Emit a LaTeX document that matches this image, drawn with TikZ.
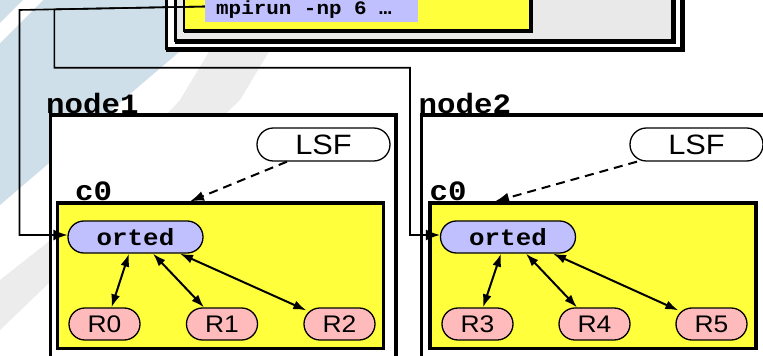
\documentclass[tikz,border=0pt]{standalone}
\usepackage{fontspec}
\setmainfont{Liberation Sans}
\newfontfamily\codefont{Liberation Mono}
\usetikzlibrary{arrows.meta}

\definecolor{slideblue}{RGB}{206,223,233}
\definecolor{slidegray}{RGB}{236,236,236}
\definecolor{hostgray}{RGB}{233,233,233}
\definecolor{coreyellow}{RGB}{255,255,60}
\definecolor{daemonblue}{RGB}{192,192,255}
\definecolor{rankpink}{RGB}{255,187,187}

% slightly widened lettering
\newcommand\widetext[1]{\scalebox{1.1}[1]{#1}}

\tikzset{
  pill/.style={draw, line width=1.3pt, rounded corners=15.9pt, minimum height=32pt, inner sep=0pt},
  rank/.style={pill, fill=rankpink, minimum width=71pt, font=\fontsize{24}{28}\selectfont},
  daemon/.style={pill, fill=daemonblue, minimum width=135pt, font=\codefont\bfseries\fontsize{23.5}{28}\selectfont},
  sched/.style={pill, fill=white, minimum width=133pt, minimum height=33pt, rounded corners=16.4pt, font=\fontsize{28}{32}\selectfont},
  hostbox/.style={draw, fill=white, line width=3.6pt},
  corebox/.style={draw, fill=coreyellow, line width=3.2pt, inner sep=0pt, minimum height=145.5pt},
  boxlabel/.style={anchor=base west, inner sep=0pt, font=\codefont\bfseries\fontsize{28}{32}\selectfont},
  frameline/.style={line width=3.6pt},
  launch/.style={line width=1.6pt, -{Latex[length=14pt,width=11pt]}},
  talk/.style={line width=2pt, {Latex[length=13pt,width=9pt]}-{Latex[length=13pt,width=9pt]}},
  assign/.style={line width=2pt, dash pattern=on 9pt off 6pt, -{Latex[length=14pt,width=10pt]}},
}

\begin{document}
\begin{tikzpicture}[x=1pt,y=-1pt]
\useasboundingbox (0,0) rectangle (763,356);
\clip (0,0) rectangle (763,356);

% slide backdrop
\fill[white] (0,0) rectangle (763,356);
\fill[slideblue] (0,0) -- (240,0) -- (0,205) -- cycle;
\fill[white] (0,23) -- (23,0) -- (43,0) -- (0,43) -- cycle;
\fill[slidegray] (0,280) -- (47,243) -- (180,100) -- (240,0) -- (300,0) -- (240,100) -- (0,330) -- cycle;

% head node with the launch command (double frame with a small offset shade)
\draw[frameline] (168,-10) rectangle (683,50);
\draw[frameline, fill=white] (166.5,-10) rectangle (681.5,48.5);
\draw[frameline] (177,-10) rectangle (674.5,42);
\draw[frameline, fill=hostgray] (175.5,-10) rectangle (673,40.5);
\draw[line width=2.6pt] (185,-10) rectangle (531.5,31.5);
\draw[line width=2.6pt, fill=coreyellow] (184,-10) rectangle (530.5,30.5);
\node[fill=daemonblue, inner sep=0pt, minimum width=213pt, minimum height=30pt] (mpirun) at (311.5,6.5) {};
\node[anchor=base west, inner sep=0pt, font=\codefont\bfseries\fontsize{19}{22}\selectfont] (cmd) at (216,14) {\widetext{mpirun -np 6 …}};

% compute hosts
\draw[hostbox] (50.5,115) rectangle (396,380);
\draw[hostbox] (421.3,115) rectangle (800,380);
\node[boxlabel] (host1) at (46,113) {\widetext{node1}};
\node[boxlabel] (host2) at (418.5,113) {\widetext{node2}};

% cores
\node[corebox, minimum width=325.6pt] (core1) at (220.5,275.75) {};
\node[corebox, minimum width=326pt] (core2) at (593,275.75) {};
\node[boxlabel] (corelabel1) at (75,200) {\widetext{c0}};
\node[boxlabel] (corelabel2) at (429.5,200) {\widetext{c0}};

% schedulers
\node[sched] (lsf1) at (323.5,144.5) {\widetext{LSF}};
\node[sched] (lsf2) at (696.5,144.5) {\widetext{LSF}};

% daemons and ranks
\node[daemon] (orted1) at (135.5,237) {\widetext{orted}};
\node[daemon] (orted2) at (508,237) {\widetext{orted}};
\node[rank] (r0) at (104.5,324) {\widetext{R0}};
\node[rank] (r1) at (222,324) {\widetext{R1}};
\node[rank] (r2) at (339.5,324) {\widetext{R2}};
\node[rank] (r3) at (477.5,324) {\widetext{R3}};
\node[rank] (r4) at (594.5,324) {\widetext{R4}};
\node[rank] (r5) at (711.5,324) {\widetext{R5}};

% scheduler allocations
\draw[assign] ([xshift=-36.5pt]lsf1.south) -- ([xshift=-30.5pt]core1.north);
\draw[assign] ([xshift=-59.5pt]lsf2.south) -- ([xshift=-98pt]core2.north);

% daemon <-> rank links
\draw[talk] ([xshift=-6.5pt]orted1.south) -- ([xshift=7pt]r0.north);
\draw[talk] ([xshift=17.5pt]orted1.south) -- ([xshift=-18pt]r1.north);
\draw[talk] ([xshift=44.5pt]orted1.south) -- ([xshift=3pt,yshift=-3pt]r2.north west);
\draw[talk] ([xshift=-7pt]orted2.south) -- ([xshift=5.5pt]r3.north);
\draw[talk] ([xshift=18pt]orted2.south) -- ([xshift=-17.5pt]r4.north);
\draw[talk] ([xshift=45pt]orted2.south) -- ([xshift=3pt,yshift=-3pt]r5.north west);

% launch paths from mpirun to the daemons
\coordinate (bendA) at (19.5,10);
\coordinate (bendB) at (54.3,9.34);
\coordinate (bendC) at (410,67.7);
\draw[launch] (mpirun.west) -- (bendA) |- ([yshift=2pt]orted1.west);
\draw[launch] (mpirun.west) -- (bendB) |- (bendC) |- ([yshift=2pt]orted2.west);
\end{tikzpicture}
\end{document}
